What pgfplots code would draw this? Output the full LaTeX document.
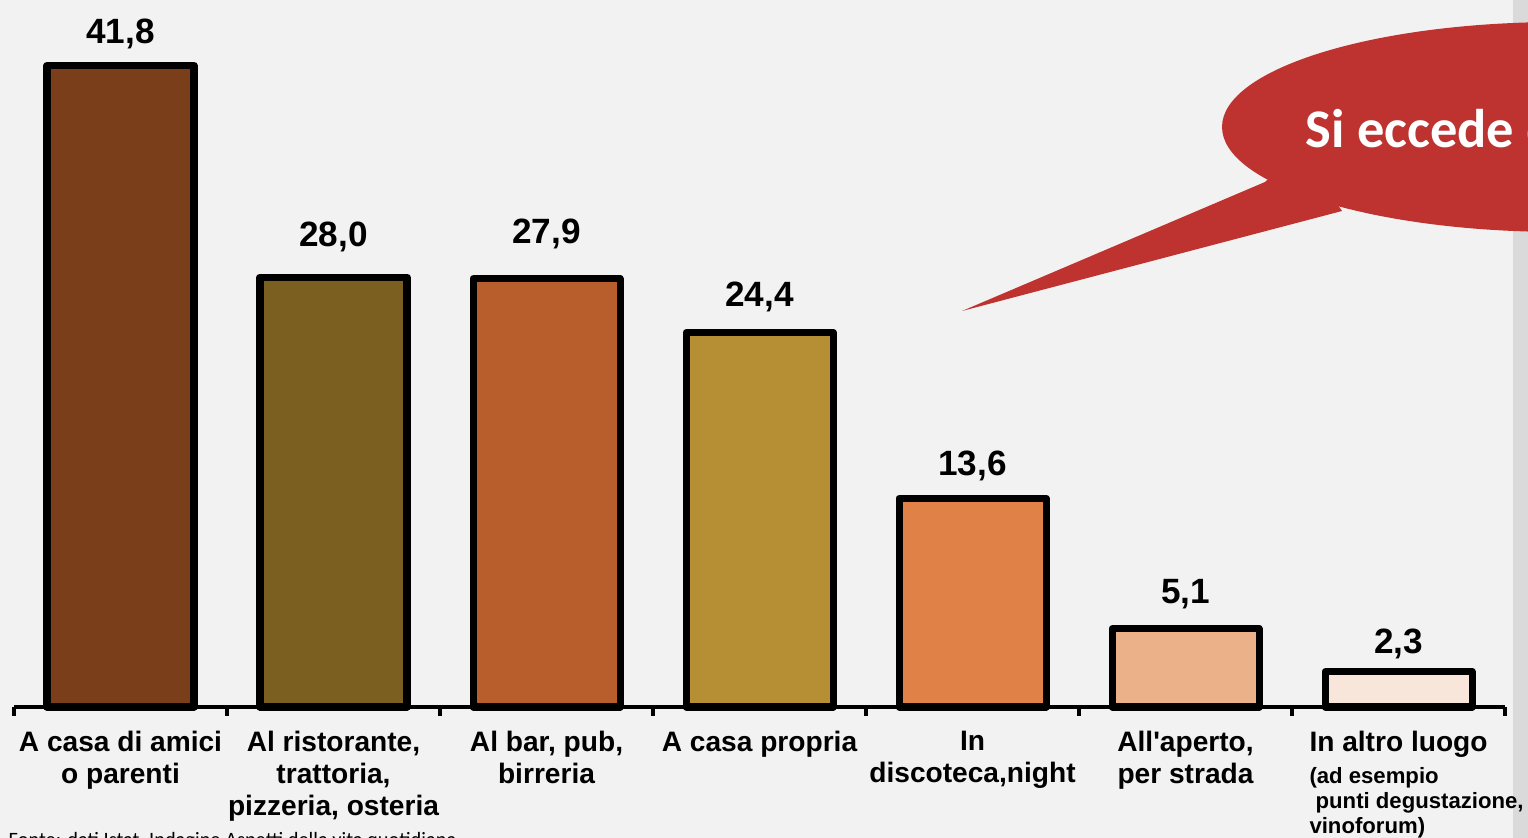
\documentclass[border=0pt]{standalone}
\usepackage{fontspec}
\usepackage{pgfplots}
\pgfplotsset{compat=1.18}
\setmainfont{Liberation Sans}
\newfontfamily\carlito{Carlito}
\definecolor{bg}{HTML}{F2F2F2}
\definecolor{strip}{HTML}{DADADA}
\definecolor{bubblered}{HTML}{BE3330}
\definecolor{c1}{HTML}{7B3E1A}
\definecolor{c2}{HTML}{7B5F21}
\definecolor{c3}{HTML}{B85E2C}
\definecolor{c4}{HTML}{B68E34}
\definecolor{c5}{HTML}{E08248}
\definecolor{c6}{HTML}{EBB28A}
\definecolor{c7}{HTML}{F8E6DA}
\begin{document}
\begin{tikzpicture}
\useasboundingbox (0,0) rectangle (152.8mm,83.8mm);
\clip (0,0) rectangle (152.8mm,83.8mm);
\fill[bg] (0,0) rectangle (152.8mm,83.8mm);
\fill[strip] (151.3mm,0) rectangle (152.8mm,83.8mm);
\begin{axis}[
  at={(1.4mm,13.1mm)}, anchor=south west,
  x=21.3mm, y=1.535mm,
  xmin=-0.5, xmax=6.5, ymin=0, ymax=45,
  enlargelimits=false,
  axis x line=bottom, axis y line=none,
  x axis line style={-, line width=1.4pt, black},
  xtick={0,...,6},
  major tick length=0pt,
  minor xtick={-0.5,0.5,...,6.5},
  minor tick length=0.9mm,
  tick align=outside,
  minor tick style={line width=1.2pt, black},
  xticklabels={{A casa di amici\\o parenti},{Al ristorante,\\trattoria,\\pizzeria, osteria},{Al bar, pub,\\birreria},{A casa propria},{In\\discoteca,night},{All\textquotesingle aperto,\\per strada},{In altro luogo\\\hspace*{3.6mm}{\fontsize{6.3}{7.1}\selectfont\bfseries\begin{tabular}[t]{@{}l@{}}(ad esempio\\\ punti degustazione,\\vinoforum)\end{tabular}}}},
  xticklabel style={font=\fontsize{8}{9.1}\selectfont\bfseries, align=center, anchor=north, yshift=-1.2mm},
  clip=false,
  nodes near coords, point meta=explicit symbolic,
  nodes near coords style={font=\fontsize{10}{12}\selectfont\bfseries, anchor=base, text=black},
  every axis plot/.append style={ybar, bar width=14.7mm, bar shift=0pt, draw=black, line width=2pt, line join=round},
]
\addplot[fill=c1, nodes near coords style={yshift=6.2pt}] coordinates {(0,41.8) [41,8]};
\addplot[fill=c2, nodes near coords style={yshift=8.8pt}] coordinates {(1,28.0) [28,0]};
\addplot[fill=c3, nodes near coords style={yshift=10pt}] coordinates {(2,27.9) [27,9]};
\addplot[fill=c4, nodes near coords style={yshift=7.3pt}] coordinates {(3,24.4) [24,4]};
\addplot[fill=c5, nodes near coords style={yshift=6.5pt}] coordinates {(4,13.6) [13,6]};
\addplot[fill=c6, nodes near coords style={yshift=7.1pt}] coordinates {(5,5.1) [5,1]};
\addplot[fill=c7, nodes near coords style={yshift=5.3pt}] coordinates {(6,2.3) [2,3]};
\end{axis}
\begin{scope}[x=0.1mm, y=-0.1mm, shift={(0,83.8mm)}]
\fill[bubblered] (1560,127) ellipse [x radius=338, y radius=105];
\fill[bubblered] (962,311) -- (1265,182) -- (1300,150) -- (1342,211) -- cycle;
\node[anchor=base west, inner sep=0pt, text=white, font=\carlito\bfseries\fontsize{15.5}{18}\selectfont] at (1305,148) {Si eccede di più};
\node[anchor=base west, inner sep=0pt, text=black, font=\carlito\fontsize{5.8}{7}\selectfont] at (8,846) {Fonte: dati Istat, Indagine Aspetti della vita quotidiana};
\end{scope}
\end{tikzpicture}
\end{document}
